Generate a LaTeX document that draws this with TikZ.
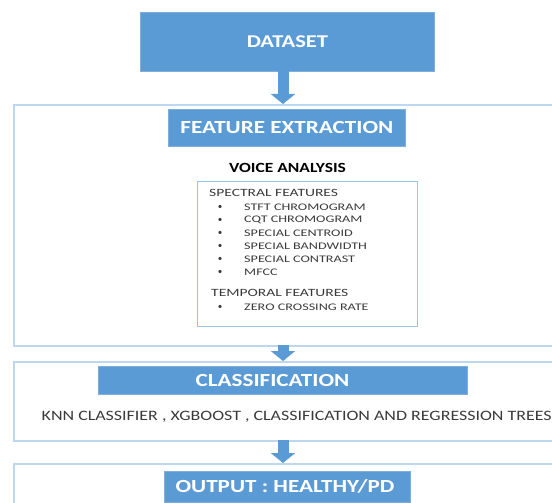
\documentclass[tikz,border=0pt]{standalone}
\usepackage{fontspec}
\setmainfont{Carlito}
\newfontfamily\widefont[FakeStretch=1.25]{Carlito}
\newfontfamily\widerfont[FakeStretch=1.4]{Carlito}
\usetikzlibrary{arrows.meta}
\definecolor{boxblue}{HTML}{5B9BD5}
\definecolor{boxedge}{HTML}{7FAEDD}
\definecolor{frameblue}{HTML}{BDD7EE}
\definecolor{innerblue}{HTML}{9DC3E6}
\definecolor{textgray}{HTML}{3A3A3A}
\tikzset{
  bluebox/.style={fill=boxblue, draw=boxedge, line width=0.8pt, text=white,
    inner sep=0pt, anchor=north west},
  stage/.style={draw=frameblue, line width=2pt, inner sep=0pt, anchor=north west},
  listbox/.style={draw=innerblue, line width=1pt, inner sep=0pt, anchor=north west},
  flow/.style={draw=boxblue, line width=11pt, -{Triangle[width=24pt,length=10pt]}},
  title/.style={font=\widefont\bfseries\fontsize{18.5}{18.5}\selectfont},
  small/.style={text=textgray, anchor=west, inner sep=0pt,
    font=\widerfont\fontsize{10.1}{10.5}\selectfont},
  heading/.style={small, font=\widerfont\fontsize{11.1}{11.5}\selectfont},
  dot/.style={text=textgray, inner sep=0pt, font=\fontsize{9}{9}\selectfont}
}
\begin{document}
\begin{tikzpicture}[x=1pt, y=-1pt]
\useasboundingbox (0,0) rectangle (552,503);

% stage frames (they run past the right and bottom edges)
\node[stage, minimum width=543pt, minimum height=241pt] (fe) at (13,104) {};
\node[stage, minimum width=543pt, minimum height=79pt] (cl) at (13,361) {};
\node[stage, minimum width=543pt, minimum height=50pt] (out) at (13,463) {};

% blue boxes
\node[bluebox, minimum width=294pt, minimum height=59pt,
      font=\widefont\bfseries\fontsize{18}{18}\selectfont] (ds) at (140,12) {DATASET};
\node[bluebox, title, minimum width=237pt, minimum height=37pt] (fx) at (168,109) {FEATURE EXTRACTION};
\node[bluebox, minimum width=369pt, minimum height=28pt] (cb) at (98,366) {};
\node[title, text=white, inner sep=0pt] (ct) at (272.5,380) {CLASSIFICATION};
\node[bluebox, minimum width=246pt, minimum height=31pt] (ob) at (164,471) {};
\node[title, text=white, inner sep=0pt] (ot) at (285,486.5) {OUTPUT : HEALTHY/PD};

% voice analysis
\node[font=\widefont\bfseries\fontsize{14}{14}\selectfont] (va) at (287.5,168) {VOICE ANALYSIS};
\node[listbox, minimum width=220pt, minimum height=145pt] (lb) at (197,181) {};

\node[heading] (sp) at (209,193) {SPECTRAL FEATURES};
\node[dot] (b1) at (220,207) {•}; \node[small] (i1) at (244,207) {STFT CHROMOGRAM};
\node[dot] (b2) at (220,220) {•}; \node[small] (i2) at (244,220) {CQT CHROMOGRAM};
\node[dot] (b3) at (220,233) {•}; \node[small] (i3) at (244,233) {SPECIAL CENTROID};
\node[dot] (b4) at (220,246) {•}; \node[small] (i4) at (244,246) {SPECIAL BANDWIDTH};
\node[dot] (b5) at (220,259) {•}; \node[small] (i5) at (244,259) {SPECIAL CONTRAST};
\node[dot] (b6) at (220,272) {•}; \node[small] (i6) at (244,272) {MFCC};
\node[heading] (tp) at (211,293) {TEMPORAL FEATURES};
\node[dot] (b7) at (220,307) {•}; \node[small] (i7) at (244,307) {ZERO CROSSING RATE};

% classifier list
\node[text=textgray, anchor=west, inner sep=0pt,
      font=\widefont\fontsize{14.35}{14.35}\selectfont] (knn) at (41.5,417)
      {KNN CLASSIFIER , XGBOOST , CLASSIFICATION AND REGRESSION TREES};

% flow arrows
\coordinate (a1) at (283,71);
\coordinate (a2) at (283,345);
\coordinate (a3) at (283,440);
\draw[flow] (a1) -- (a1 |- fe.north);
\draw[flow] (a2) -- (a2 |- cl.north);
\draw[flow] (a3) -- (a3 |- out.north);
\end{tikzpicture}
\end{document}
